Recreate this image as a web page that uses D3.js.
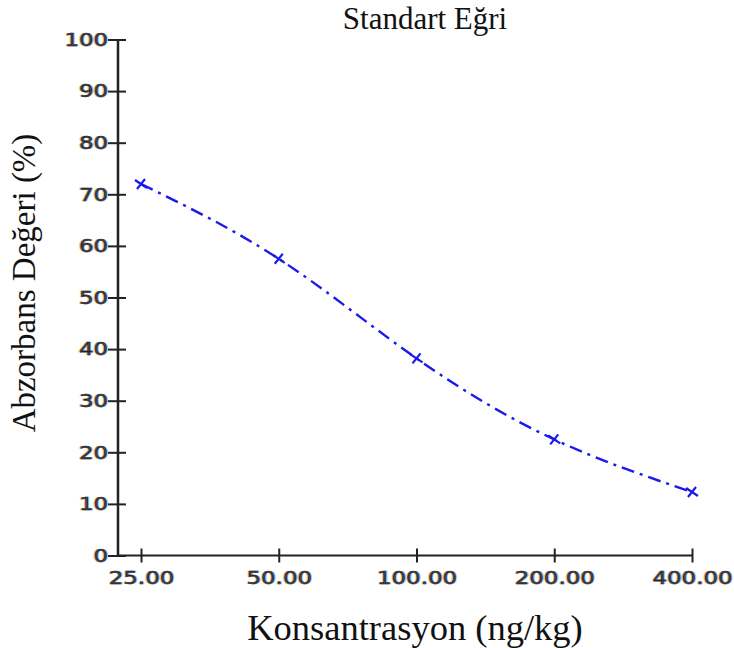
<!DOCTYPE html>
<html>
<head>
<meta charset="utf-8">
<script src="https://cdn.jsdelivr.net/npm/d3@7"></script>
<style>
  body { margin: 0; background: #fff; }
  svg { display: block; }
  .tick text {
    font-family: "DejaVu Sans", Verdana, sans-serif;
    font-size: 18px;
    fill: #222;
    stroke: #222;
    stroke-width: 0.4px;
    text-shadow: -1px 0 rgba(230,140,20,0.45), 1px 0 rgba(30,140,255,0.45);
  }
  .serif { font-family: "Liberation Serif", "Times New Roman", serif; fill: #111; }
</style>
</head>
<body>
<svg id="chart" width="734" height="648"></svg>
<script>
// Konsantrasyon (ng/kg) ve ölçülen absorbans değerleri
const concentrations = [25, 50, 100, 200, 400];
const absorbance = [72, 57.5, 38.2, 22.5, 12.3];
const xTickLabels = ["25.00", "50.00", "100.00", "200.00", "400.00"];
const yTicks = [0, 10, 20, 30, 40, 50, 60, 70, 80, 90, 100];

const svg = d3.select("#chart");
const axisLeftX = 118;
const axisBottomY = 555.5;
const stretch = 1.27;

const x = d3.scaleLog().base(2).domain([25, 400]).range([141, 692]);
const y = d3.scaleLinear().domain([0, 100]).range([axisBottomY, 39.5]);

// Y ekseni
const yAxis = svg.append("g")
  .attr("transform", `translate(${axisLeftX},0)`)
  .call(d3.axisLeft(y).tickValues(yTicks).tickFormat(d3.format("d")).tickSize(0).tickPadding(0));
yAxis.select(".domain").remove();
yAxis.selectAll(".tick line").remove();
yAxis.selectAll(".tick text")
  .attr("x", 0)
  .attr("font-size", null)
  .attr("transform", `translate(-10,0) scale(${stretch},1)`);
yAxis.selectAll(".tick").append("line")
  .attr("x1", -10).attr("x2", 8)
  .attr("stroke", "#222").attr("stroke-width", 2);
yAxis.append("line")
  .attr("x1", 0).attr("x2", 0)
  .attr("y1", y(100)).attr("y2", axisBottomY + 1)
  .attr("stroke", "#222").attr("stroke-width", 2.5);

// X ekseni
const xAxis = svg.append("g")
  .attr("transform", `translate(0,${axisBottomY})`)
  .call(d3.axisBottom(x).tickValues(concentrations)
    .tickFormat((d, i) => xTickLabels[i]).tickSize(0).tickPadding(16));
xAxis.select(".domain").remove();
xAxis.selectAll(".tick line").remove();
xAxis.selectAll(".tick text")
  .attr("transform", `scale(${stretch},1)`);
xAxis.selectAll(".tick").append("line")
  .attr("y1", -7).attr("y2", 7)
  .attr("stroke", "#222").attr("stroke-width", 2);
xAxis.append("line")
  .attr("x1", axisLeftX).attr("x2", x(400))
  .attr("y1", 0).attr("y2", 0)
  .attr("stroke", "#222").attr("stroke-width", 2);

// Standart eğri (kesik-noktalı çizgi)
const pts = concentrations.map((c, i) => [x(c), y(absorbance[i])]);
const line = d3.line().curve(d3.curveNatural);
svg.append("path")
  .attr("d", line(pts))
  .attr("fill", "none")
  .attr("stroke", "#1a1aee")
  .attr("stroke-width", 2.4)
  .attr("stroke-dasharray", "13,6,3,6");

// İşaretçiler (x)
svg.append("g").selectAll("path.mark")
  .data(pts)
  .join("path")
  .attr("d", d => `M${d[0]-6},${d[1]-4}L${d[0]+6},${d[1]+4}M${d[0]-4},${d[1]+5}L${d[0]+4},${d[1]-5}`)
  .attr("stroke", "#1a1aee")
  .attr("stroke-width", 2.2)
  .attr("fill", "none");

// Başlıklar
svg.append("text").attr("class", "serif")
  .attr("x", 425).attr("y", 29)
  .attr("text-anchor", "middle")
  .attr("font-size", 31)
  .text("Standart Eğri");

svg.append("text").attr("class", "serif")
  .attr("transform", `translate(35,283) rotate(-90)`)
  .attr("text-anchor", "middle")
  .attr("font-size", 33)
  .text("Abzorbans Değeri (%)");

svg.append("text").attr("class", "serif")
  .attr("x", 415).attr("y", 640)
  .attr("text-anchor", "middle")
  .attr("font-size", 36.5)
  .text("Konsantrasyon (ng/kg)");
</script>
</body>
</html>
